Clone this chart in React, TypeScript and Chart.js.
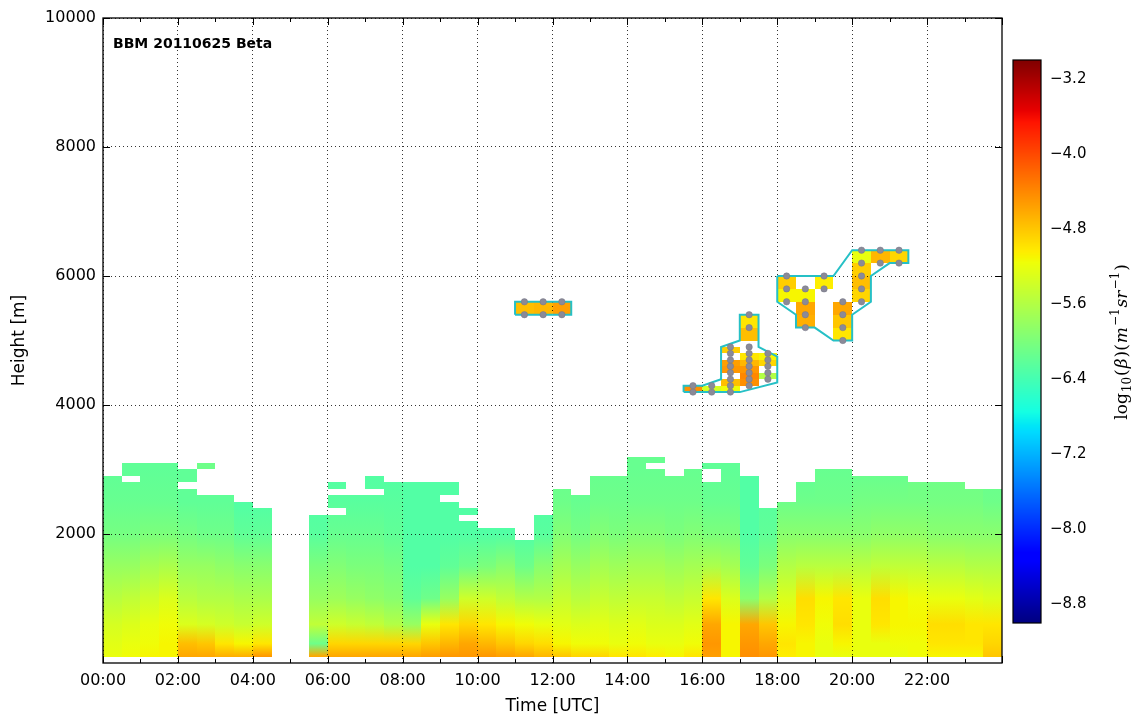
import React, { useEffect, useRef } from "react";
import { Chart, registerables } from "chart.js";
Chart.register(...registerables);

// ---------- axes ----------
const timeTicks = [0, 2, 4, 6, 8, 10, 12, 14, 16, 18, 20, 22];
const timeTickLabels = ["00:00", "02:00", "04:00", "06:00", "08:00", "10:00", "12:00", "14:00", "16:00", "18:00", "20:00", "22:00"];
const minorTimeTicks = [0, 1, 2, 3, 4, 5, 6, 7, 8, 9, 10, 11, 12, 13, 14, 15, 16, 17, 18, 19, 20, 21, 22, 23, 24];
const heightTicks = [2000, 4000, 6000, 8000, 10000];
const cbarTicks = [-8.8, -8.0, -7.2, -6.4, -5.6, -4.8, -4.0, -3.2];

// ---------- boundary-layer backscatter (30-min bins) ----------
const binStart = [0, 0.5, 1, 1.5, 2, 2.5, 3, 3.5, 4, 4.5, 5, 5.5, 6, 6.5, 7, 7.5, 8, 8.5, 9, 9.5, 10, 10.5, 11, 11.5, 12, 12.5, 13, 13.5, 14, 14.5, 15, 15.5, 16, 16.5, 17, 17.5, 18, 18.5, 19, 19.5, 20, 20.5, 21, 21.5, 22, 22.5, 23, 23.5];
const binWidth = 0.5;
const layerBottom = 100;
const layerTop = [2900, 3100, 3100, 3100, 3000, 2600, 2600, 2500, 2400, null, null, 2300, 2800, 2600, 2900, 2800, 2800, 2800, 2800, 2400, 2100, 2100, 1900, 2300, 2700, 2600, 2900, 2900, 3200, 3200, 2900, 3000, 3100, 3100, 2900, 2400, 2500, 2800, 3000, 3000, 2900, 2900, 2900, 2800, 2800, 2800, 2700, 2700];
const profileHeights = [100, 300, 600, 1000, 1500, 2000, 2500, 3000];
const beta100 = [-5.2, -5.15, -5.1, -5.1, -4.6, -4.6, -4.65, -4.65, -4.5, null, null, -4.6, -4.6, -4.6, -4.6, -4.6, -4.6, -4.55, -4.5, -4.5, -4.5, -4.55, -4.6, -4.7, -4.8, -4.9, -4.9, -5.0, -5.0, -5.05, -5.1, -5.0, -4.55, -5.1, -4.45, -4.5, -5.05, -5.1, -5.2, -5.2, -5.2, -5.2, -5.2, -5.15, -5.1, -5.1, -5.1, -4.8];
const beta300 = [-5.25, -5.2, -5.15, -5.1, -4.75, -4.8, -5.0, -5.1, -5.0, null, null, -6.1, -4.9, -4.9, -4.9, -4.9, -4.9, -4.8, -4.7, -4.6, -4.7, -4.8, -4.9, -4.95, -5.1, -5.15, -5.15, -5.2, -5.15, -5.2, -5.2, -5.15, -4.5, -5.1, -4.5, -4.6, -5.0, -5.1, -5.2, -5.1, -5.2, -5.2, -5.15, -5.15, -5.0, -5.0, -5.0, -4.9];
const beta600 = [-5.35, -5.3, -5.2, -5.15, -5.3, -5.35, -5.4, -5.45, -5.4, null, null, -5.5, -5.4, -5.45, -5.5, -5.6, -5.8, -5.2, -5.0, -4.9, -5.0, -5.1, -5.15, -5.2, -5.25, -5.3, -5.25, -5.3, -5.25, -5.3, -5.3, -5.25, -4.6, -5.1, -4.6, -4.8, -5.1, -5.0, -5.15, -4.95, -5.2, -5.0, -5.1, -5.1, -4.95, -4.95, -5.0, -5.0];
const beta1000 = [-5.55, -5.5, -5.4, -5.3, -5.55, -5.6, -5.6, -5.65, -5.65, null, null, -5.8, -5.75, -5.8, -5.85, -5.9, -6.2, -6.1, -5.8, -5.4, -5.4, -5.5, -5.6, -5.6, -5.45, -5.55, -5.45, -5.5, -5.45, -5.45, -5.5, -5.45, -5.0, -5.3, -5.9, -5.6, -5.3, -4.95, -5.1, -5.0, -5.2, -4.95, -5.1, -5.15, -5.2, -5.2, -5.25, -5.3];
const beta1500 = [-5.8, -5.8, -5.7, -5.65, -5.8, -5.8, -5.85, -5.9, -5.9, null, null, -6.0, -5.95, -6.0, -6.0, -6.05, -6.3, -6.3, -6.2, -6.1, -6.0, -5.9, -6.1, -5.9, -5.7, -5.8, -5.7, -5.75, -5.7, -5.7, -5.75, -5.7, -5.65, -5.7, -6.2, -6.0, -5.6, -5.55, -5.55, -5.55, -5.55, -5.5, -5.5, -5.5, -5.55, -5.55, -5.6, -5.6];
const beta2000 = [-6.05, -6.05, -6.0, -6.0, -6.05, -6.1, -6.1, -6.2, -6.2, null, null, -6.25, -6.15, -6.15, -6.15, -6.2, -6.3, -6.3, -6.3, -6.3, -6.3, -6.3, -6.3, -6.25, -5.95, -6.05, -5.95, -6.0, -5.95, -5.95, -6.0, -5.95, -6.0, -6.0, -6.3, -6.2, -5.9, -5.9, -5.9, -5.9, -5.9, -5.85, -5.85, -5.85, -5.9, -5.9, -5.9, -5.9];
const beta2500 = [-6.15, -6.15, -6.15, -6.15, -6.2, -6.2, -6.2, -6.3, -6.3, null, null, -6.3, -6.25, -6.25, -6.25, -6.25, -6.3, -6.3, -6.3, -6.3, -6.3, -6.3, -6.3, -6.3, -6.1, -6.15, -6.1, -6.1, -6.1, -6.1, -6.1, -6.1, -6.15, -6.15, -6.3, -6.25, -6.1, -6.1, -6.1, -6.1, -6.05, -6.05, -6.05, -6.05, -6.05, -6.05, -6.05, -6.1];
const beta3000 = [-6.2, -6.2, -6.2, -6.2, -6.2, -6.2, -6.2, -6.3, -6.3, null, null, -6.3, -6.3, -6.3, -6.3, -6.3, -6.3, -6.3, -6.3, -6.3, -6.3, -6.3, -6.3, -6.3, -6.15, -6.2, -6.15, -6.15, -6.15, -6.15, -6.15, -6.15, -6.2, -6.2, -6.3, -6.3, -6.2, -6.2, -6.15, -6.15, -6.15, -6.15, -6.15, -6.1, -6.1, -6.1, -6.1, -6.15];

// missing cells inside the layer
const gapStart = [0.5, 2.0, 6.0, 6.0, 7.0, 9.0, 9.5, 14.5, 16.0];
const gapLow = [2800, 2700, 2600, 2300, 2600, 2500, 2200, 3000, 2800];
const gapHigh = [2900, 2800, 2700, 2400, 2700, 2600, 2300, 3100, 3000];
// detached cells above the layer
const islandStart = [2.5];
const islandLow = [3000];
const islandHigh = [3100];
const islandBeta = [-6.1];

// ---------- cloud cells ----------
const cloudStart = [11.0, 11.5, 12.0,
  15.5, 16.0, 16.5, 16.5, 16.5, 16.5, 16.5,
  17.0, 17.0, 17.0, 17.0, 17.0, 17.0, 17.0, 17.5, 17.5, 17.5,
  18.0, 18.0, 18.5, 18.5, 18.5, 19.0, 19.5, 19.5, 19.5, 20.0, 20.0, 20.0, 20.0, 20.5, 21.0];
const cloudLow = [5400, 5400, 5400,
  4200, 4200, 4800, 4600, 4500, 4300, 4200,
  5200, 5000, 4700, 4600, 4500, 4400, 4300, 4700, 4600, 4400,
  5800, 5600, 5600, 5400, 5200, 5800, 5400, 5200, 5000, 6200, 6000, 5800, 5600, 6200, 6200];
const cloudHigh = [5600, 5600, 5600,
  4300, 4300, 4900, 4700, 4600, 4400, 4300,
  5400, 5200, 4800, 4700, 4600, 4500, 4400, 4800, 4700, 4500,
  6000, 5800, 5800, 5600, 5400, 6000, 5600, 5400, 5200, 6400, 6200, 6000, 5800, 6400, 6400];
const cloudBeta = [-4.75, -4.7, -4.55,
  -4.45, -5.35, -4.85, -4.55, -4.5, -4.75, -5.15,
  -5.0, -4.75, -5.0, -4.7, -4.5, -4.4, -4.45, -5.1, -4.9, -5.6,
  -4.85, -5.1, -5.1, -4.6, -4.65, -5.05, -4.6, -4.8, -5.0, -5.2, -4.85, -4.75, -4.9, -4.7, -4.9];

// sampled cloud points
const dotTime = [11.25, 11.25, 11.75, 11.75, 12.25, 12.25,
  15.75, 15.75, 16.25, 16.25,
  16.75, 16.75, 16.75, 16.75, 16.75, 16.75, 16.75, 16.75,
  17.25, 17.25, 17.25, 17.25, 17.25, 17.25, 17.25, 17.25, 17.25,
  17.75, 17.75, 17.75, 17.75, 17.75,
  18.25, 18.25, 18.25, 18.75, 18.75, 18.75, 18.75, 19.25, 19.25,
  19.75, 19.75, 19.75, 19.75, 20.25, 20.25, 20.25, 20.25, 20.25, 20.75, 20.75, 21.25, 21.25];
const dotHeight = [5400, 5600, 5400, 5600, 5400, 5600,
  4200, 4300, 4200, 4300,
  4200, 4300, 4400, 4500, 4600, 4700, 4800, 4900,
  4300, 4400, 4500, 4600, 4700, 4800, 4900, 5200, 5400,
  4400, 4500, 4600, 4700, 4800,
  5600, 5800, 6000, 5200, 5400, 5600, 5800, 5800, 6000,
  5000, 5200, 5400, 5600, 5600, 5800, 6000, 6200, 6400, 6200, 6400, 6200, 6400];

// cloud outlines
const outlineATime = [11.0, 12.5, 12.5, 11.0, 11.0];
const outlineAHeight = [5400, 5400, 5600, 5600, 5400];
const outlineBTime = [15.5, 15.5, 16.0, 16.5, 16.5, 17.0, 17.0, 17.5, 17.5, 18.0, 18.0, 17.0, 15.5];
const outlineBHeight = [4200, 4300, 4300, 4400, 4900, 5000, 5400, 5400, 4900, 4750, 4350, 4200, 4200];
const outlineCTime = [18.0, 19.5, 20.0, 21.5, 21.5, 21.0, 20.5, 20.5, 20.0, 20.0, 19.5, 19.0, 18.5, 18.5, 18.0, 18.0];
const outlineCHeight = [6000, 6000, 6400, 6400, 6200, 6200, 6000, 5600, 5400, 5000, 5000, 5200, 5200, 5400, 5600, 6000];

// ---------- colormap (matplotlib jet) ----------
const JET_R = [[0, 0], [0.35, 0], [0.66, 1], [0.89, 1], [1, 0.5]];
const JET_G = [[0, 0], [0.125, 0], [0.375, 1], [0.64, 1], [0.91, 0], [1, 0]];
const JET_B = [[0, 0.5], [0.11, 1], [0.34, 1], [0.65, 0], [1, 0]];
const CMIN = -9, CMAX = -3;
function seg(s: number[][], v: number) {
  for (let k = 1; k < s.length; k++) {
    if (v <= s[k][0]) {
      const [x0, y0] = s[k - 1], [x1, y1] = s[k];
      return y0 + ((v - x0) / (x1 - x0)) * (y1 - y0);
    }
  }
  return s[s.length - 1][1];
}
function jet(val: number) {
  const v = Math.max(0, Math.min(1, (val - CMIN) / (CMAX - CMIN)));
  const r = Math.round(seg(JET_R, v) * 255), g = Math.round(seg(JET_G, v) * 255), b = Math.round(seg(JET_B, v) * 255);
  return `rgb(${r},${g},${b})`;
}

const FONT = '"DejaVu Sans", sans-serif';

const heatmapPlugin = {
  id: "heatmap",
  beforeDraw(chart: any) {
    const { ctx, chartArea: ca } = chart;
    const xs = chart.scales.x, ys = chart.scales.y;
    const profiles = [beta100, beta300, beta600, beta1000, beta1500, beta2000, beta2500, beta3000];
    const h0 = profileHeights[0], hN = profileHeights[profileHeights.length - 1];
    const yStart = ys.getPixelForValue(h0), yEnd = ys.getPixelForValue(hN);
    ctx.save();
    ctx.beginPath();
    ctx.rect(ca.left, ca.top, ca.right - ca.left, ca.bottom - ca.top);
    ctx.clip();
    const px = (t: number) => Math.round(xs.getPixelForValue(t));
    const py = (h: number) => Math.round(ys.getPixelForValue(h));
    binStart.forEach((t, i) => {
      const top = layerTop[i];
      if (top == null) return;
      const g = ctx.createLinearGradient(0, yStart, 0, yEnd);
      profileHeights.forEach((h, k) => g.addColorStop((h - h0) / (hN - h0), jet(profiles[k][i] as number)));
      ctx.fillStyle = g;
      const x0 = px(t), x1 = px(t + binWidth);
      const yt = py(top), yb = py(layerBottom);
      ctx.fillRect(x0, yt, x1 - x0, yb - yt);
    });
    ctx.fillStyle = "#ffffff";
    gapStart.forEach((t, i) => {
      const x0 = px(t), x1 = px(t + binWidth), yt = py(gapHigh[i]), yb = py(gapLow[i]);
      ctx.fillRect(x0, yt, x1 - x0, yb - yt);
    });
    islandStart.forEach((t, i) => {
      ctx.fillStyle = jet(islandBeta[i]);
      const x0 = px(t), x1 = px(t + binWidth), yt = py(islandHigh[i]), yb = py(islandLow[i]);
      ctx.fillRect(x0, yt, x1 - x0, yb - yt);
    });
    cloudStart.forEach((t, i) => {
      ctx.fillStyle = jet(cloudBeta[i]);
      const x0 = px(t), x1 = px(t + binWidth), yt = py(cloudHigh[i]), yb = py(cloudLow[i]);
      ctx.fillRect(x0, yt, x1 - x0, yb - yt);
    });
    ctx.restore();
  },
  afterDraw(chart: any) {
    const { ctx, chartArea: ca } = chart;
    const xs = chart.scales.x, ys = chart.scales.y;
    ctx.save();
    ctx.strokeStyle = "#000";
    ctx.lineWidth = 1;
    ctx.beginPath();
    minorTimeTicks.forEach((t) => {
      const x = Math.round(xs.getPixelForValue(t)) + 0.5;
      const len = t % 2 === 0 ? 7 : 4;
      ctx.moveTo(x, ca.bottom); ctx.lineTo(x, ca.bottom - len);
      ctx.moveTo(x, ca.top); ctx.lineTo(x, ca.top + len);
    });
    heightTicks.forEach((h) => {
      const y = Math.round(ys.getPixelForValue(h)) + 0.5;
      ctx.moveTo(ca.left, y); ctx.lineTo(ca.left + 7, y);
      ctx.moveTo(ca.right, y); ctx.lineTo(ca.right - 7, y);
    });
    ctx.stroke();
    ctx.lineWidth = 1.3;
    ctx.strokeRect(ca.left, ca.top, ca.right - ca.left, ca.bottom - ca.top);
    ctx.fillStyle = "#000";
    ctx.font = `bold 14px ${FONT}`;
    ctx.textBaseline = "alphabetic";
    ctx.textAlign = "left";
    ctx.fillText("BBM 20110625 Beta", ca.left + 10, ca.top + 30);
    ctx.restore();
  },
};

const colorbarPlugin = {
  id: "colorbar",
  beforeDraw(chart: any) {
    const { ctx, chartArea: ca } = chart;
    const ys = chart.scales.y;
    ctx.save();
    for (let y = Math.floor(ca.top); y < ca.bottom; y++) {
      ctx.fillStyle = jet(ys.getValueForPixel(y + 0.5));
      ctx.fillRect(ca.left, y, ca.right - ca.left, 1);
    }
    ctx.restore();
  },
  afterDraw(chart: any) {
    const { ctx, chartArea: ca } = chart;
    ctx.save();
    ctx.strokeStyle = "#000";
    ctx.lineWidth = 1.2;
    ctx.strokeRect(ca.left, ca.top, ca.right - ca.left, ca.bottom - ca.top);
    // label: log10(beta)(m^-1 sr^-1), rotated
    const serif = '"DejaVu Serif", serif';
    const parts: [string, string, number][] = [
      ["log", `17px ${serif}`, 0],
      ["10", `12px ${serif}`, 4],
      ["(", `17px ${serif}`, 0],
      ["β", `italic 17px ${serif}`, 0],
      [")(", `17px ${serif}`, 0],
      ["m", `italic 17px ${serif}`, 0],
      ["\u22121", `12px ${serif}`, -8],
      ["sr", `italic 17px ${serif}`, 0],
      ["\u22121", `12px ${serif}`, -8],
      [")", `17px ${serif}`, 0],
    ];
    let total = 0;
    const widths = parts.map(([t, f]) => { ctx.font = f; const w = ctx.measureText(t).width + 1; total += w; return w; });
    ctx.translate(ca.right + 86, (ca.top + ca.bottom) / 2);
    ctx.rotate(-Math.PI / 2);
    ctx.fillStyle = "#000";
    ctx.textBaseline = "alphabetic";
    let x = -total / 2;
    parts.forEach(([t, f, dy], i) => { ctx.font = f; ctx.fillText(t, x, dy); x += widths[i]; });
    ctx.restore();
  },
};

export default function App() {
  const mainRef = useRef<HTMLCanvasElement>(null);
  const cbRef = useRef<HTMLCanvasElement>(null);
  useEffect(() => {
    document.body.style.margin = "0";
    const dots = dotTime.map((t, i) => ({ x: t, y: dotHeight[i] }));
    const outline = (ts: number[], hs: number[]) => ts.map((t, i) => ({ x: t, y: hs[i] }));
    const lineDs = (data: any[]) => ({
      data, showLine: true, borderColor: "#26c0c6", borderWidth: 2, pointRadius: 0, fill: false, tension: 0,
    });
    const main = new Chart(mainRef.current as HTMLCanvasElement, {
      type: "scatter",
      data: {
        datasets: [
          { data: dots, pointRadius: 3.2, backgroundColor: "#8a8a98", borderColor: "#777786", borderWidth: 0.5 } as any,
          lineDs(outline(outlineATime, outlineAHeight)),
          lineDs(outline(outlineBTime, outlineBHeight)),
          lineDs(outline(outlineCTime, outlineCHeight)),
        ],
      },
      options: {
        responsive: false,
        animation: false,
        devicePixelRatio: 1,
        layout: { padding: { left: 0, top: 18, right: 129, bottom: 0 } },
        plugins: { legend: { display: false }, tooltip: { enabled: false } },
        events: [],
        scales: {
          x: {
            type: "linear", min: 0, max: 24, position: "bottom",
            afterBuildTicks: (s: any) => { s.ticks = timeTicks.map((v) => ({ value: v })); },
            afterFit: (s: any) => { s.height = 57; },
            ticks: {
              padding: 8, color: "#000", font: { family: FONT, size: 16 }, maxRotation: 0, autoSkip: false,
              callback: (v: any) => { const k = timeTicks.indexOf(Number(v)); return k >= 0 ? timeTickLabels[k] : ""; },
            },
            grid: { color: "#000", lineWidth: 0.8, drawTicks: false },
            border: { display: false, dash: [1, 3] },
            title: { display: true, text: "Time [UTC]", color: "#000", font: { family: FONT, size: 17 }, padding: { top: 0, bottom: 3 } },
          },
          y: {
            type: "linear", min: 0, max: 10000,
            afterBuildTicks: (s: any) => { s.ticks = heightTicks.map((v) => ({ value: v })); },
            afterFit: (s: any) => { s.width = 103; },
            ticks: { padding: 7, color: "#000", font: { family: FONT, size: 16 }, callback: (v: any) => String(v) },
            grid: { color: "#000", lineWidth: 0.8, drawTicks: false },
            border: { display: false, dash: [1, 3] },
            title: { display: true, text: "Height [m]", color: "#000", font: { family: FONT, size: 17 }, padding: { top: 9, bottom: 0 } },
          },
        },
      } as any,
      plugins: [heatmapPlugin],
    });
    const cb = new Chart(cbRef.current as HTMLCanvasElement, {
      type: "scatter",
      data: { datasets: [] },
      options: {
        responsive: false,
        animation: false,
        devicePixelRatio: 1,
        events: [],
        layout: { padding: { left: 10, top: 60, right: 0, bottom: 97 } },
        plugins: { legend: { display: false }, tooltip: { enabled: false } },
        scales: {
          x: { display: false, min: 0, max: 1 },
          y: {
            position: "right", min: CMIN, max: CMAX,
            afterBuildTicks: (s: any) => { s.ticks = cbarTicks.map((v) => ({ value: v })); },
            afterFit: (s: any) => { s.width = 90; },
            ticks: {
              padding: 9, color: "#000", font: { family: FONT, size: 15 },
              callback: (v: any) => (Number(v) < 0 ? "\u2212" : "") + Math.abs(Number(v)).toFixed(1),
            },
            grid: { display: false, drawTicks: false },
            border: { display: false },
          },
        },
      } as any,
      plugins: [colorbarPlugin],
    });
    return () => { main.destroy(); cb.destroy(); };
  }, []);
  return (
    <div style={{ position: "relative", width: 1131, height: 720, background: "#fff" }}>
      <canvas ref={mainRef} width={1131} height={720} style={{ position: "absolute", left: 0, top: 0 }} />
      <canvas ref={cbRef} width={128} height={720} style={{ position: "absolute", left: 1003, top: 0 }} />
    </div>
  );
}
